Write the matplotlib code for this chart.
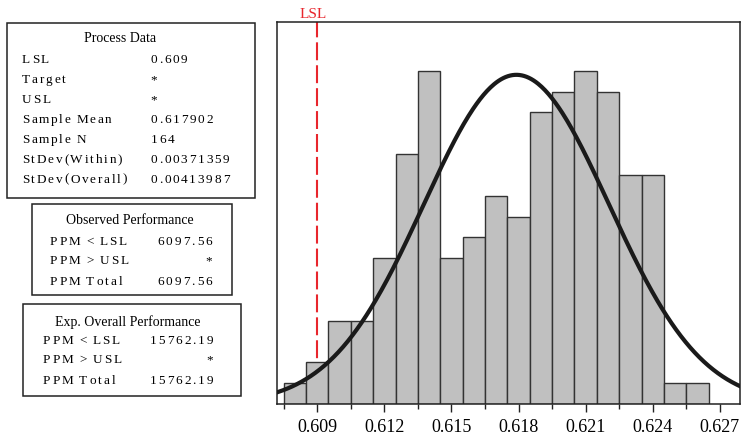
import numpy as np
import matplotlib
matplotlib.use("Agg")
import matplotlib.pyplot as plt
from matplotlib import font_manager
from matplotlib.ft2font import FT2Font
from matplotlib.patches import Rectangle

# histogram data (bin width 0.001)
bin_centers = [0.608, 0.609, 0.610, 0.611, 0.612, 0.613, 0.614, 0.615, 0.616, 0.617,
               0.618, 0.619, 0.620, 0.621, 0.622, 0.623, 0.624, 0.625, 0.626]
counts = [1, 2, 4, 4, 7, 12, 16, 7, 8, 10, 9, 14, 15, 16, 15, 11, 11, 1, 1]
bin_width = 0.001

lsl = 0.609
mean = 0.617902
n = 164
sd_within = 0.00371359
sd_overall = 0.00413987

tick_vals = [0.609, 0.612, 0.615, 0.618, 0.621, 0.624, 0.627]
tick_labels = ["0.609", "0.612", "0.615", "0.618", "0.621", "0.624", "0.627"]
minor_vals = [0.6075, 0.6105, 0.6135, 0.6165, 0.6195, 0.6225, 0.6255]

process_rows = [("LSL", "0.609"), ("Target", "*"), ("USL", "*"),
                ("Sample Mean", "0.617902"), ("Sample N", "164"),
                ("StDev(Within)", "0.00371359"), ("StDev(Overall)", "0.00413987")]
observed_rows = [("PPM < LSL", "6097.56"), ("PPM > USL", "*"), ("PPM Total", "6097.56")]
expected_rows = [("PPM < LSL", "15762.19"), ("PPM > USL", "*"), ("PPM Total", "15762.19")]

W, H = 741, 437
SERIF = "Liberation Serif"

fig = plt.figure(figsize=(W / 100, H / 100), dpi=100)


def px(x, y):
    return x / W, 1 - y / H


font_path = font_manager.findfont(font_manager.FontProperties(family=SERIF))
ft = FT2Font(font_path, hinting_factor=1)


def spaced(x, y, s, size=9.5, gap=1.9, ha="left"):
    # minitab-like letter spaced text, placed char by char (pixel coords)
    ft.set_size(size, 100)
    adv = [ft.load_char(ord(c)).linearHoriAdvance / 65536 + (0.6 if c == " " else gap) for c in s]
    total = sum(adv) - gap
    if ha == "right":
        x -= total
    elif ha == "center":
        x -= total / 2
    for c, a in zip(s, adv):
        fig.text(*px(x, y), c, fontsize=size, family=SERIF, ha="left", va="baseline")
        x += a


def box(x0, y0, x1, y1):
    fig.patches.append(Rectangle(px(x0, y1), (x1 - x0) / W, (y1 - y0) / H,
                                 transform=fig.transFigure, fill=False,
                                 edgecolor="#222222", linewidth=1.1))


# --- main histogram ---
ax = fig.add_axes([277 / W, 33 / H, 463 / W, 382 / H])
ax.bar(bin_centers, counts, width=bin_width, color="#c0c0c0",
       edgecolor="#333333", linewidth=1.0, zorder=2)
ax.axvline(lsl, color="#e8262d", linewidth=1.5, dashes=(8.6, 2.4), zorder=1)

xs = np.linspace(0.6072, 0.6279, 400)
ys = n * bin_width * np.exp(-0.5 * ((xs - mean) / sd_overall) ** 2) / (sd_overall * np.sqrt(2 * np.pi))
ax.plot(xs, ys, color="#1a1a1a", linewidth=3.0, zorder=3)

ax.set_xlim(0.6072, 0.6279)
ax.set_ylim(0, 18.34)
ax.set_yticks([])
ax.set_xticks(tick_vals)
ax.set_xticklabels(tick_labels, fontsize=13, family=SERIF)
ax.set_xticks(minor_vals, minor=True)
ax.tick_params(axis="x", which="major", length=6, width=1, pad=5, color="#222222")
ax.tick_params(axis="x", which="minor", length=3.6, width=1, color="#222222")
for sp in ax.spines.values():
    sp.set_linewidth(1.1)
    sp.set_color("#222222")

fig.text(*px(313, 18.5), "LSL", color="#e8262d", fontsize=11, family=SERIF,
         ha="center", va="baseline")

# --- Process Data box ---
box(7, 22.7, 255, 198)
fig.text(*px(120, 41.7), "Process Data", fontsize=10, family=SERIF, ha="center", va="baseline")
for i, (lab, val) in enumerate(process_rows):
    yb = 63.3 + i * 19.9
    spaced(22, yb, lab)
    spaced(150.5, yb, val)

# --- Observed Performance box ---
box(32, 204, 232, 295)
fig.text(*px(129.7, 224.3), "Observed Performance", fontsize=10, family=SERIF,
         ha="center", va="baseline")
for yb, (lab, val) in zip([245, 264.5, 285], observed_rows):
    spaced(50, yb, lab, gap=2.1)
    spaced(212, yb, val, gap=2.1, ha="right")

# --- Exp. Overall Performance box ---
box(23, 304, 241, 396)
fig.text(*px(127.5, 325.7), "Exp. Overall Performance", fontsize=10, family=SERIF,
         ha="center", va="baseline")
for yb, (lab, val) in zip([344.3, 363.3, 384.3], expected_rows):
    spaced(43, yb, lab, gap=2.1)
    spaced(213, yb, val, gap=2.1, ha="right")

fig.savefig("out.png", dpi=100)
